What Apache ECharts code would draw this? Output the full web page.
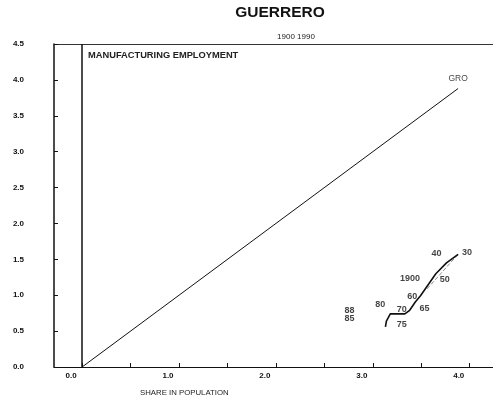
<!DOCTYPE html>
<html>
<head>
<meta charset="utf-8">
<script src="https://cdn.jsdelivr.net/npm/echarts@6/dist/echarts.min.js"></script>
<style>
html,body{margin:0;padding:0;background:#fff;}
#chart{width:493px;height:408px;}
</style>
</head>
<body>
<div id="chart"></div>
<script>
// ---- data ----
var yearLabels = ['1900', '30', '40', '50', '60', '65', '70', '75', '80', '85', '88'];
var popShare   = [3.56, 3.88, 3.76, 3.65, 3.49, 3.44, 3.38, 3.33, 3.18, 3.14, 3.13];
var empShare   = [1.09, 1.57, 1.45, 1.30, 0.99, 0.91, 0.79, 0.74, 0.74, 0.64, 0.56];
var equalX = [0, 3.88];
var equalY = [0, 3.88];
var equalLabel = 'GRO';
var zeroLineX = [0];
var xTickValues = [0, 0.5, 1, 1.5, 2, 2.5, 3, 3.5, 4];
var xLabelValues = [0, 1, 2, 3, 4];

// ---- label styling (offsets in px, not data) ----
var labelOffsets = [[-17,-10],[9,-2],[-10,-9],[9,6],[-8,1],[9,7],[-8,-1],[-3,11],[-10,-9],[-37,-3],[-36,-16]];
var equalLabelOffset = [0, -10];

var font = 'Liberation Sans, Arial, sans-serif';
var chart = echarts.init(document.getElementById('chart'));

var trajData = [];
for (var i = 1; i < popShare.length; i++) trajData.push([popShare[i], empShare[i]]);
var dashedData = [[popShare[0], empShare[0]], [popShare[1], empShare[1]]];
var labelData = popShare.map(function (x, i) {
  return {
    value: [x, empShare[i]],
    label: { show: true, formatter: yearLabels[i], offset: labelOffsets[i] }
  };
});
var last = equalX.length - 1;
labelData.push({
  value: [equalX[last], equalY[last]],
  label: { show: true, formatter: equalLabel, offset: equalLabelOffset, fontWeight: 'normal', fontSize: 8.5 }
});
var equalData = equalX.map(function (x, i) { return [x, equalY[i]]; });

chart.setOption({
  animation: false,
  backgroundColor: '#fff',
  title: [
    { text: 'GUERRERO', left: 280, top: 5, textAlign: 'center', padding: 0,
      textStyle: { fontSize: 15.5, fontWeight: 'bold', fontFamily: font, color: '#111' } },
    { text: '1900 1990', left: 296, top: 33, textAlign: 'center', padding: 0,
      textStyle: { fontSize: 8, fontWeight: 'normal', fontFamily: font, color: '#222' } },
    { text: 'MANUFACTURING EMPLOYMENT', left: 88, top: 51, padding: 0,
      textStyle: { fontSize: 9.3, fontWeight: 'bold', fontFamily: font, color: '#222' } },
    { text: 'SHARE IN POPULATION', left: 140, top: 389, padding: 0,
      textStyle: { fontSize: 7.8, fontWeight: 'normal', fontFamily: font, color: '#222' } }
  ],
  grid: { left: 54, right: 0, top: 44, bottom: 41, containLabel: false },
  xAxis: [{
    type: 'value', min: -0.29, max: 4.24,
    axisLine: { show: true, onZero: false, lineStyle: { color: '#111', width: 1 } },
    axisTick: { show: true, inside: true, length: 4, customValues: xTickValues, lineStyle: { color: '#111' } },
    axisLabel: { customValues: xLabelValues, margin: 5, padding: [0, 22, 0, 0],
      formatter: function (v) { return v.toFixed(1); },
      fontSize: 8, fontWeight: 'bold', fontFamily: font, color: '#111' },
    splitLine: { show: false }
  }, {
    type: 'value', min: -0.29, max: 4.24, position: 'top',
    axisLine: { show: true, onZero: false, lineStyle: { color: '#333', width: 1 } },
    axisTick: { show: false }, axisLabel: { show: false }, splitLine: { show: false }
  }],
  yAxis: {
    type: 'value', min: 0, max: 4.5, interval: 0.5,
    axisLine: { show: true, onZero: false, lineStyle: { color: '#111', width: 1.5 } },
    axisTick: { show: true, inside: true, length: 4, lineStyle: { color: '#111' } },
    axisLabel: { margin: 30, formatter: function (v) { return v.toFixed(1); },
      fontSize: 8, fontWeight: 'bold', fontFamily: font, color: '#111' },
    splitLine: { show: false }
  },
  series: [
    {
      type: 'line', data: equalData, symbol: 'none', silent: true,
      lineStyle: { color: '#111', width: 1 },
      markLine: {
        silent: true, symbol: 'none', label: { show: false },
        lineStyle: { color: '#111', width: 1.5, type: 'solid' },
        data: zeroLineX.map(function (x) { return { xAxis: x }; })
      }
    },
    {
      type: 'line', data: dashedData, symbol: 'none', silent: true,
      lineStyle: { color: '#888', width: 1, type: [4, 2] }
    },
    {
      type: 'line', data: trajData, symbol: 'none', silent: true,
      lineStyle: { color: '#111', width: 1.6 }
    },
    {
      type: 'scatter', data: labelData, symbolSize: 0.1, silent: true,
      itemStyle: { color: 'rgba(0,0,0,0)' },
      label: { position: 'inside', fontSize: 9, fontWeight: 'bold', fontFamily: font, color: '#111' }
    }
  ]
});
</script>
</body>
</html>
